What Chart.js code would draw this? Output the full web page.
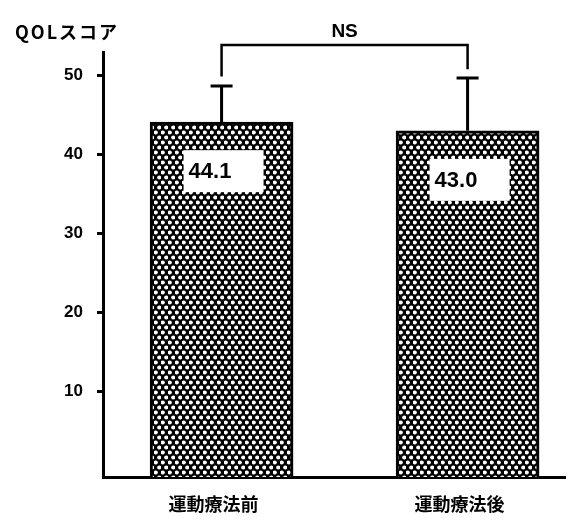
<!DOCTYPE html>
<html>
<head>
<meta charset="utf-8">
<script src="https://cdn.jsdelivr.net/npm/chart.js@4/dist/chart.umd.min.js"></script>
<style>
  body { margin: 0; background: #fff; }
  #wrap { width: 576px; height: 521px; }
</style>
</head>
<body>
<div id="wrap"><canvas id="chart"></canvas></div>
<script>
// data
var categories = ['運動療法前', '運動療法後'];
var means = [44.1, 43.0];
var sds = [4.6, 6.7];
var valueLabels = ['44.1', '43.0'];
var yTicks = [10, 20, 30, 40, 50];
var sigLabel = 'NS';
var axisTitle = 'QOLスコア';

var latin = '"Liberation Sans", Arial, sans-serif';
var cjk = '"Noto Sans CJK JP", sans-serif';

// dotted cross-hatch fill
function makePattern() {
    var c = document.createElement('canvas');
    c.width = 7; c.height = 10;
    var g = c.getContext('2d');
    g.fillStyle = '#000';
    g.fillRect(0, 0, 7, 10);
    g.fillStyle = '#fff';
    [[1.75, 2.5], [5.25, 7.5]].forEach(function (p) {
        g.beginPath();
        g.arc(p[0], p[1], 2.1, 0, Math.PI * 2);
        g.fill();
    });
    return document.getElementById('chart').getContext('2d').createPattern(c, 'repeat');
}

var extras = {
    id: 'extras',
    afterDatasetsDraw: function (chart) {
        var ctx = chart.ctx;
        var x = chart.scales.x, y = chart.scales.y;
        ctx.save();
        ctx.strokeStyle = '#000';
        ctx.fillStyle = '#000';
        ctx.lineWidth = 3;

        var tops = [];
        means.forEach(function (m, i) {
            var cx = x.getPixelForValue(i + 1);
            var top = y.getPixelForValue(m + sds[i]);
            tops.push(m + sds[i]);
            // error bar
            ctx.beginPath();
            ctx.moveTo(cx, y.getPixelForValue(m));
            ctx.lineTo(cx, top);
            ctx.moveTo(cx - 11, top);
            ctx.lineTo(cx + 11, top);
            ctx.stroke();

            // value box
            var by = y.getPixelForValue(m) + 28;
            var bx = cx - 38;
            ctx.fillStyle = '#fff';
            ctx.fillRect(bx, by, 80, 42);
            ctx.fillStyle = '#000';
            ctx.font = 'bold 22px ' + latin;
            ctx.textAlign = 'left';
            ctx.textBaseline = 'middle';
            ctx.fillText(valueLabels[i], bx + 5, by + 22);
        });

        // NS bracket
        var x1 = x.getPixelForValue(1), x2 = x.getPixelForValue(2);
        var level = y.getPixelForValue(53.9);
        ctx.lineWidth = 2.5;
        ctx.beginPath();
        ctx.moveTo(x1, y.getPixelForValue(tops[0] + 1.2));
        ctx.lineTo(x1, level);
        ctx.lineTo(x2, level);
        ctx.lineTo(x2, y.getPixelForValue(tops[1] + 1.1));
        ctx.stroke();
        ctx.font = 'bold 19px ' + latin;
        ctx.textAlign = 'center';
        ctx.textBaseline = 'alphabetic';
        ctx.fillText(sigLabel, (x1 + x2) / 2, 37);

        // axis title
        ctx.textAlign = 'left';
        ctx.font = 'bold 18px ' + cjk;
        ctx.letterSpacing = '2px';
        ctx.fillText(axisTitle, 15, 39);
        ctx.restore();
    }
};

new Chart(document.getElementById('chart'), {
    type: 'bar',
    data: {
        datasets: [{
            data: means.map(function (m, i) { return { x: i + 1, y: m }; }),
            backgroundColor: makePattern(),
            borderColor: '#000',
            borderWidth: 3,
            barThickness: 143,
            base: -0.9
        }]
    },
    options: {
        responsive: true,
        maintainAspectRatio: false,
        animation: false,
        layout: { padding: { left: 61, top: 52, right: 11, bottom: 0 } },
        plugins: { legend: { display: false }, tooltip: { enabled: false } },
        scales: {
            x: {
                type: 'linear',
                offset: false,
                min: 0.518,
                max: 2.396,
                grid: { drawOnChartArea: false, drawTicks: false },
                border: { display: true, color: '#000', width: 3 },
                afterBuildTicks: function (s) { s.ticks = [{ value: 1 }, { value: 2 }]; },
                afterFit: function (s) { s.height = 44; },
                ticks: {
                    color: '#000',
                    padding: 16,
                    labelOffset: -8,
                    font: { family: cjk, size: 18, weight: 'bold' },
                    callback: function (v, i) { return categories[i]; }
                }
            },
            y: {
                min: -0.9,
                max: 53,
                grid: { drawOnChartArea: false, color: '#000', tickLength: 6, tickWidth: 3 },
                border: { display: true, color: '#000', width: 3 },
                afterBuildTicks: function (s) { s.ticks = yTicks.map(function (v) { return { value: v }; }); },
                afterFit: function (s) { s.width = 42; },
                ticks: {
                    color: '#000',
                    padding: 14,
                    font: { family: latin, size: 17, weight: 'bold' }
                }
            }
        }
    },
    plugins: [extras]
});
</script>
</body>
</html>
